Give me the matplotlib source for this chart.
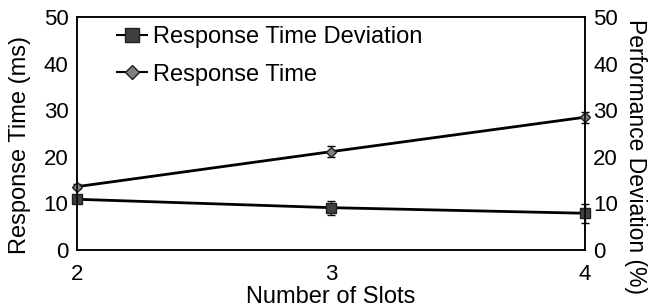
import matplotlib
matplotlib.use('Agg')
import matplotlib.pyplot as plt
from matplotlib.lines import Line2D

plt.rcParams['font.family'] = ['Liberation Sans', 'DejaVu Sans']

slots = [2, 3, 4]
resp_time = [13.6, 21.1, 28.5]
resp_time_err = [0.5, 1.2, 1.2]
resp_dev = [10.9, 9.1, 7.9]
resp_dev_err = [0.4, 1.5, 2.0]
y_ticks = [0, 10, 20, 30, 40, 50]

fig, ax = plt.subplots(figsize=(6.5, 3.08), dpi=100)
fig.subplots_adjust(left=0.118, right=0.9, top=0.945, bottom=0.188)

ax.errorbar(slots, resp_dev, yerr=resp_dev_err, color='black', linewidth=2,
            marker='s', markersize=7, markerfacecolor='#404040', markeredgecolor='#202020',
            capsize=3, elinewidth=1, capthick=1, clip_on=False, zorder=3)
ax.errorbar(slots, resp_time, yerr=resp_time_err, color='black', linewidth=2,
            marker='D', markersize=5.5, markerfacecolor='#808080', markeredgecolor='#202020',
            capsize=3, elinewidth=1, capthick=1, clip_on=False, zorder=3)

ax.set_xlim(2, 4)
ax.set_ylim(0, 50)
ax.set_xticks(slots)
ax.set_yticks(y_ticks)
ax.tick_params(axis='y', labelsize=16, length=0, pad=6)
ax.tick_params(axis='x', labelsize=16, length=0, pad=10)
ax.set_xlabel('Number of Slots', fontsize=17, va='center')
ax.xaxis.set_label_coords(0.5, -0.2)
ax.set_ylabel('Response Time (ms)', fontsize=17, va='center')
ax.yaxis.set_label_coords(-0.112, 0.45)
for s in ax.spines.values():
    s.set_linewidth(1.1)

ax2 = ax.twinx()
ax2.set_ylim(0, 50)
ax2.set_yticks(y_ticks)
ax2.tick_params(labelsize=16, length=0, pad=6)
ax2.set_ylabel('Performance Deviation (%)', fontsize=16.5, rotation=270, va='center')
ax2.yaxis.set_label_coords(1.1, 0.40)
for s in ax2.spines.values():
    s.set_linewidth(1.1)

handles = [
    Line2D([], [], color='black', linewidth=1.5, marker='s', markersize=10,
           markerfacecolor='#404040', markeredgecolor='#202020'),
    Line2D([], [], color='black', linewidth=1.5, marker='D', markersize=7,
           markerfacecolor='#808080', markeredgecolor='#202020'),
]
ax.legend(handles, ['Response Time Deviation', 'Response Time'], loc='upper left',
          bbox_to_anchor=(0.06, 1.0), frameon=False, fontsize=17,
          handlelength=1.3, handletextpad=0.25, labelspacing=0.65, borderaxespad=0)

fig.savefig('out.png', dpi=100)
